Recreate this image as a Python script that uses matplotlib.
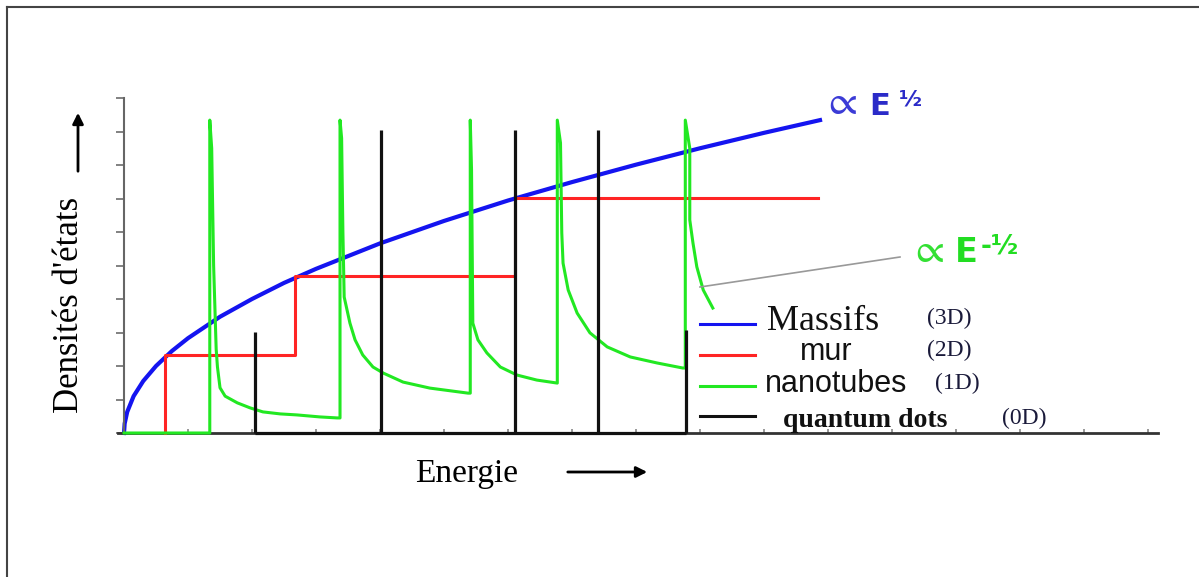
import matplotlib
matplotlib.use('Agg')
import matplotlib.pyplot as plt
from matplotlib.lines import Line2D
import numpy as np

# densite d'etats vs energie (units: x ticks / y ticks of the figure)
# 3D - massifs
massif_E = [0, 0.01, 0.05, 0.15, 0.3, 0.5, 0.75, 1, 1.5, 2, 2.5, 3, 4, 5, 6, 7, 8, 9, 10, 10.875]
massif_D = [0, 0.28, 0.63, 1.10, 1.55, 2.00, 2.45, 2.83, 3.47, 4.00, 4.48, 4.90, 5.66, 6.33,
            6.94, 7.49, 8.01, 8.50, 8.96, 9.34]

# 2D - mur (staircase)
mur_edges = [0.64, 2.67, 6.11]
mur_levels = [2.33, 4.69, 7.01]
mur_end = 10.84

# 1D - nanotubes
nano_E = [0, 1.34, 1.34, 1.37, 1.40, 1.44, 1.46, 1.50, 1.58, 1.77, 1.97, 2.17, 2.44, 2.70, 3.06, 3.33, 3.375,
          3.375, 3.40, 3.42, 3.44, 3.53, 3.61, 3.73, 3.89, 4.05, 4.36, 4.78, 5.375, 5.41,
          5.41, 5.43, 5.45, 5.53, 5.67, 5.88, 6.14, 6.45, 6.77,
          6.77, 6.82, 6.84, 6.86, 6.94, 7.08, 7.28, 7.55, 7.91, 8.33, 8.73, 8.77,
          8.77, 8.84, 8.84, 8.89, 8.95, 9.05, 9.20]
nano_D = [0, 0, 9.34, 8.5, 5.0, 2.5, 1.97, 1.35, 1.10, 0.90, 0.75, 0.63, 0.57, 0.54, 0.48, 0.45, 0.45,
          9.34, 8.8, 6.0, 4.06, 3.28, 2.78, 2.33, 1.97, 1.79, 1.52, 1.34, 1.19, 1.19,
          9.34, 7.85, 3.28, 2.78, 2.39, 1.97, 1.73, 1.58, 1.49,
          9.34, 8.66, 5.97, 5.07, 4.27, 3.58, 2.99, 2.57, 2.27, 2.09, 1.94, 1.94,
          9.34, 8.5, 6.36, 5.67, 4.96, 4.27, 3.73]

# 0D - quantum dots
dots_E = [2.05, 4.02, 6.11, 7.41, 8.78]
dots_D = [3.01, 9.04, 9.04, 9.04, 3.07]

legend_names = ['Massifs', 'mur', 'nanotubes', 'quantum dots']
legend_dims = ['(3D)', '(2D)', '(1D)', '(0D)']

BLUE = '#1414f0'
RED = '#ff2424'
GREEN = '#22e822'
BLACK = '#111111'

W, H = 1199, 577
fig = plt.figure(figsize=(W / 100, H / 100), dpi=100)


def fx(px):
    return px / W


def fy(py):
    return 1 - py / H


ax = fig.add_axes([fx(118), fy(433), fx(1158) - fx(118), fy(98) - fy(433)])
ax.set_xlim(-0.094, 16.156)
ax.set_ylim(0, 10)

ax.plot(massif_E, massif_D, color=BLUE, lw=3, zorder=2, clip_on=False)

mx = [mur_edges[0]]
my = [0]
for i, e in enumerate(mur_edges):
    nxt = mur_edges[i + 1] if i + 1 < len(mur_edges) else mur_end
    mx += [e, nxt]
    my += [mur_levels[i], mur_levels[i]]
    if i + 1 < len(mur_edges):
        mx.append(nxt)
        my.append(mur_levels[i + 1])
ax.plot(mx, my, color=RED, lw=2.2, zorder=3, clip_on=False)

ax.plot(nano_E, nano_D, color=GREEN, lw=2.2, zorder=4, clip_on=False)

ax.vlines(dots_E, 0, dots_D, color=BLACK, lw=2.3, zorder=5, clip_on=False)
ax.hlines(0, dots_E[0], dots_E[-1], color=BLACK, lw=2.3, zorder=5, clip_on=False)

for s in ['top', 'right']:
    ax.spines[s].set_visible(False)
ax.spines['left'].set_position(('data', 0))
ax.spines['left'].set_color('#666666')
ax.spines['left'].set_linewidth(1.5)
ax.spines['bottom'].set_color('#333333')
ax.spines['bottom'].set_linewidth(2)
ax.set_yticks(np.arange(0, 11))
ax.set_xticks(np.arange(0, 17))
ax.tick_params(axis='y', direction='out', length=6, width=1.3, color='#777777', labelleft=False)
ax.tick_params(axis='x', direction='in', length=3, width=1.2, color='#888888', labelbottom=False)

# legend, drawn by hand like the original
key_y = [324, 355, 386, 416]
name_x = [767, 826, 836, 865]
name_ha = ['left', 'center', 'center', 'center']
name_base = [330, 360, 392, 427]
name_font = [dict(family='Liberation Serif', fontsize=26),
             dict(family='Liberation Sans', fontsize=22),
             dict(family='Liberation Sans', fontsize=22),
             dict(family='Liberation Serif', fontsize=20, fontweight='bold')]
dim_x = [927, 927, 935, 1002]
dim_base = [324, 356, 389, 424]
for i, c in enumerate([BLUE, RED, GREEN, BLACK]):
    fig.add_artist(Line2D([fx(700), fx(755)], [fy(key_y[i])] * 2, transform=fig.transFigure,
                          color=c, lw=2.2))
    fig.text(fx(name_x[i]), fy(name_base[i]), legend_names[i], ha=name_ha[i], va='baseline',
             color='#111111', **name_font[i])
    fig.text(fx(dim_x[i]), fy(dim_base[i]), legend_dims[i], family='Liberation Serif',
             fontsize=17, va='baseline', color='#1a1a3a')

# annotations
fig.text(fx(839), fy(114), r'$\propto$', fontsize=30, math_fontfamily='stix',
         color='#3b3bd6', ha='center', va='baseline')
fig.text(fx(869), fy(115), 'E', fontsize=22, fontweight='bold', color='#2b2bc8', va='baseline')
fig.text(fx(899), fy(105), '\u00bd', fontsize=16, fontweight='bold', color='#2b2bc8', va='baseline')

fig.text(fx(926), fy(262), r'$\propto$', fontsize=30, math_fontfamily='stix',
         color='#33e033', ha='center', va='baseline')
fig.text(fx(955), fy(262), 'E', fontsize=24, fontweight='bold', color='#22dd22', va='baseline')
fig.text(fx(981), fy(253), '-\u00bd', fontsize=19, fontweight='bold', color='#22dd22', va='baseline')
fig.add_artist(Line2D([fx(700), fx(900)], [fy(287), fy(257)], transform=fig.transFigure,
                      color='#999999', lw=1.2))

# axis titles with arrows
fig.text(fx(70), fy(305), "Densités d'états", family='Liberation Serif', fontsize=25,
         rotation=90, ha='center', va='center')
fig.text(fx(467), fy(482), 'Energie', family='Liberation Serif', fontsize=24,
         ha='center', va='baseline')
ax.annotate('', xy=(650, H - 472), xytext=(565, H - 472), xycoords='figure pixels',
            arrowprops=dict(arrowstyle='-|>', color='black', lw=2, mutation_scale=16))
ax.annotate('', xy=(78, H - 110), xytext=(78, H - 174), xycoords='figure pixels',
            arrowprops=dict(arrowstyle='-|>', color='black', lw=2, mutation_scale=16))

# frame around the picture
fig.add_artist(Line2D([fx(7), 1], [fy(7), fy(7)], transform=fig.transFigure, color='#444444', lw=1.5))
fig.add_artist(Line2D([fx(7), fx(7)], [fy(7), 0], transform=fig.transFigure, color='#444444', lw=1.5))

fig.savefig('out.png', dpi=100)
